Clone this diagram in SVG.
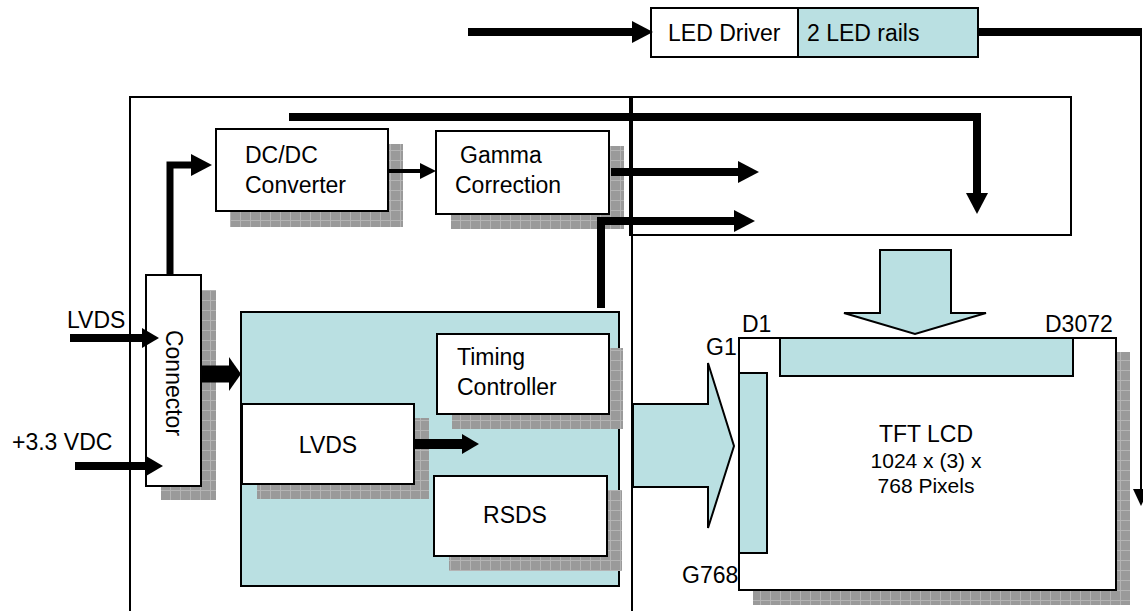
<svg xmlns="http://www.w3.org/2000/svg" width="1143" height="611" viewBox="0 0 1143 611">
<style>
  .box{fill:#fff;stroke:#000;stroke-width:2}
  .teal{fill:#BAE0E2;stroke:#000;stroke-width:2}
  .open{fill:none;stroke:#000;stroke-width:2}
  .sh{fill:url(#grid)}
  .t{font-family:"Liberation Sans",Arial,Helvetica,sans-serif;font-size:23px;fill:#000}
  .s{font-size:21px}
  .mid{text-anchor:middle}
  .w{fill:none;stroke:#000;stroke-linejoin:miter}
</style>
<defs>
  <pattern id="grid" width="10" height="10" patternUnits="userSpaceOnUse">
    <rect width="10" height="10" fill="#9a9a9a"/>
    <path d="M0 0.5H10M0.5 0V10" stroke="#b4b4b4" stroke-width="1"/>
  </pattern>
  <marker id="ahL" markerUnits="userSpaceOnUse" markerWidth="21" markerHeight="22" refX="0" refY="11" orient="auto"><path d="M0 0L21 11L0 22z" fill="#000"/></marker>
  <marker id="ahM" markerUnits="userSpaceOnUse" markerWidth="16" markerHeight="16" refX="0" refY="8" orient="auto"><path d="M0 0L16 8L0 16z" fill="#000"/></marker>
  <marker id="ahT" markerUnits="userSpaceOnUse" markerWidth="17" markerHeight="16" refX="0" refY="8" orient="auto"><path d="M0 0L17 8L0 16z" fill="#000"/></marker>
  <marker id="ahN" markerUnits="userSpaceOnUse" markerWidth="17" markerHeight="20" refX="0" refY="10" orient="auto"><path d="M0 0L17 10L0 20z" fill="#000"/></marker>
  <marker id="ahW" markerUnits="userSpaceOnUse" markerWidth="12" markerHeight="34" refX="0" refY="17" orient="auto"><path d="M0 0L12 17L0 34z" fill="#000"/></marker>
</defs>
<rect width="1143" height="611" fill="#fff"/>

<g id="board-frame"><rect class="open" x="130" y="97" width="502" height="530"/></g>
<g id="driver-frame"><rect class="open" x="630" y="97" width="441" height="138"/></g>

<g id="led-driver">
  <rect class="box" x="651" y="8" width="147" height="49"/>
  <rect class="teal" x="798" y="8" width="180" height="49"/>
  <text class="t" x="668" y="41">LED Driver</text>
  <text class="t" x="807" y="41">2 LED rails</text>
</g>

<g id="dcdc">
  <rect class="sh" x="230" y="144" width="173" height="83"/>
  <rect class="box" x="216" y="129" width="172" height="82"/>
  <text class="t" x="245" y="163">DC/DC</text>
  <text class="t" x="245" y="193">Converter</text>
</g>

<g id="gamma">
  <rect class="sh" x="451" y="146" width="173" height="83"/>
  <rect class="box" x="436" y="131" width="173" height="83"/>
  <text class="t" x="460" y="163">Gamma</text>
  <text class="t" x="455" y="193">Correction</text>
</g>

<g id="connector">
  <rect class="sh" x="161" y="290" width="55" height="210"/>
  <rect class="box" x="146" y="275" width="55" height="211"/>
  <text class="t mid" transform="translate(166,383) rotate(90)">Connector</text>
</g>

<g id="controller-board">
  <rect class="teal" x="241" y="312" width="378" height="274"/>
</g>

<g id="timing">
  <rect class="sh" x="452" y="348" width="171" height="81"/>
  <rect class="box" x="437" y="334" width="172" height="80"/>
  <text class="t" x="457" y="365">Timing</text>
  <text class="t" x="457" y="395">Controller</text>
</g>

<g id="lvds">
  <rect class="sh" x="257" y="418" width="172" height="81"/>
  <rect class="box" x="242" y="404" width="172" height="80"/>
  <text class="t mid" x="328" y="453">LVDS</text>
</g>

<g id="rsds">
  <rect class="sh" x="449" y="490" width="173" height="81"/>
  <rect class="box" x="434" y="476" width="173" height="80"/>
  <text class="t mid" x="515" y="523">RSDS</text>
</g>

<g id="gate-arrow">
  <path class="teal" d="M633 404H708V363L734 446L708 528V487H633z"/>
</g>

<g id="source-arrow">
  <path class="teal" d="M880 250H951V313H986L915 334L844 313H880z"/>
</g>

<g id="tft">
  <rect class="sh" x="753" y="352" width="377" height="253"/>
  <rect class="box" x="739" y="338" width="377" height="252"/>
  <rect class="teal" x="780" y="338" width="293" height="38"/>
  <rect class="teal" x="739" y="373" width="28" height="180"/>
  <text class="t mid" x="926" y="442">TFT LCD</text>
  <text class="t s mid" x="926" y="468">1024 x (3) x</text>
  <text class="t s mid" x="926" y="493">768 Pixels</text>
  <text class="t" x="742" y="332">D1</text>
  <text class="t" x="1045" y="332">D3072</text>
  <text class="t" x="706" y="355">G1</text>
  <text class="t" x="682" y="583">G768</text>
</g>

<g id="input-labels">
  <text class="t" x="67" y="328">LVDS</text>
  <text class="t" x="12" y="450">+3.3 VDC</text>
</g>

<g id="connectors">
  <path class="w" stroke-width="8" d="M468 32H632" marker-end="url(#ahL)"/>
  <path class="w" stroke-width="8" d="M978 32H1142"/>
  <path class="w" stroke-width="2" d="M1141 32V489" marker-end="url(#ahT)"/>
  <path class="w" stroke-width="8" d="M289 117H977V193" marker-end="url(#ahL)"/>
  <path class="w" stroke-width="7" d="M170 275V165H191" marker-end="url(#ahL)"/>
  <path class="w" stroke-width="4" d="M388 171H420" marker-end="url(#ahM)"/>
  <path class="w" stroke-width="8" d="M611 172H738" marker-end="url(#ahL)"/>
  <path class="w" stroke-width="8" d="M601 308V221H734" marker-end="url(#ahL)"/>
  <path class="w" stroke-width="8" d="M70 338H142" marker-end="url(#ahN)"/>
  <path class="w" stroke-width="8" d="M75 466H146" marker-end="url(#ahN)"/>
  <path class="w" stroke-width="17" d="M201 374H229" marker-end="url(#ahW)"/>
  <path class="w" stroke-width="10" d="M414 444H462" marker-end="url(#ahN)"/>
</g>
</svg>
